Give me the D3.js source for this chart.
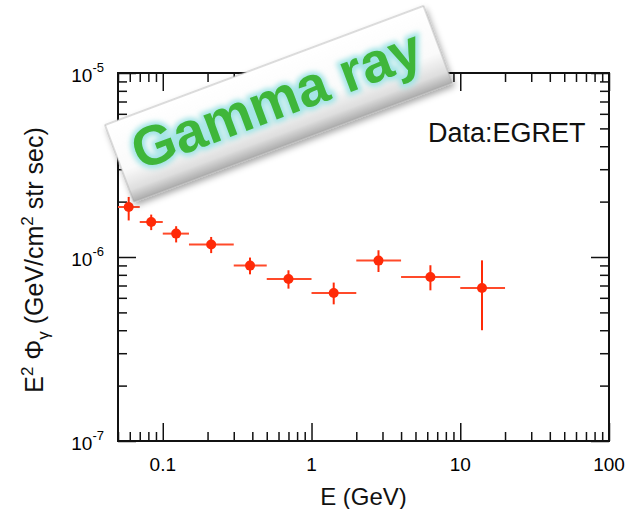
<!DOCTYPE html>
<html>
<head>
<meta charset="utf-8">
<script src="https://cdn.jsdelivr.net/npm/d3@7"></script>
<style>
  body { margin: 0; background: #fff; }
  svg { font-family: "Liberation Sans", Arial, Helvetica, sans-serif; }
</style>
</head>
<body>
<div class="chart"></div>
<script>
// EGRET points
const energy = [0.059, 0.0836, 0.123, 0.2115, 0.386, 0.70, 1.41, 2.82, 6.3, 14.0]
const eLow = [0.05, 0.07, 0.1, 0.15, 0.3, 0.5, 1, 2, 4, 10]
const eHigh = [0.07, 0.1, 0.15, 0.3, 0.5, 1, 2, 4, 10, 20]
const flux = [1.87e-6, 1.55e-6, 1.34e-6, 1.17e-6, 8.98e-7, 7.59e-7, 6.37e-7, 9.56e-7, 7.79e-7, 6.78e-7]
const fluxHigh = [2.12e-6, 1.70e-6, 1.47e-6, 1.285e-6, 9.93e-7, 8.47e-7, 7.26e-7, 1.088e-6, 9.02e-7, 9.59e-7]
const fluxLow = [1.58e-6, 1.40e-6, 1.20e-6, 1.05e-6, 8.05e-7, 6.73e-7, 5.53e-7, 8.29e-7, 6.59e-7, 4.0e-7]

const xTickLabels = ["0.1", "1", "10", "100"]
const xTickValues = [0.1, 1, 10, 100]
const yTickValues = [1e-5, 1e-6, 1e-7]
const yTickExp = ["-5", "-6", "-7"]

const data = energy.map((e, i) => ({e: e, lo: eLow[i], hi: eHigh[i], f: flux[i], fl: fluxLow[i], fh: fluxHigh[i]}))

const W = 633, H = 509
const margin = {left: 118, top: 73, right: 24, bottom: 68}
const w = W - margin.left - margin.right
const h = H - margin.top - margin.bottom

const svg = d3.select(".chart").append("svg").attr("width", W).attr("height", H)
const defs = svg.append("defs")

const x = d3.scaleLog().domain([0.05, 100]).range([0, w])
const y = d3.scaleLog().domain([1e-7, 1e-5]).range([h, 0])

const g = svg.append("g").attr("transform", `translate(${margin.left},${margin.top})`)

defs.append("clipPath").attr("id", "plotclip").append("rect").attr("width", w).attr("height", h)

// ticks on all four sides, pointing inwards
const isMajor = v => Math.abs(Math.log10(v) - Math.round(Math.log10(v))) < 1e-6
const xMinor = x.ticks().filter(v => !isMajor(v))
const yMinor = y.ticks().filter(v => !isMajor(v))

function addAxis(axisFn, scale, values, size, tr) {
  g.append("g").attr("transform", tr)
    .call(axisFn(scale).tickValues(values).tickSize(size).tickSizeOuter(0).tickFormat(""))
    .call(a => a.select(".domain").remove())
    .call(a => a.selectAll("line").attr("stroke", "#111").attr("stroke-width", 1.5))
}
addAxis(d3.axisBottom, x, xMinor, -9, `translate(0,${h})`)
addAxis(d3.axisBottom, x, xTickValues, -18, `translate(0,${h})`)
addAxis(d3.axisTop, x, xMinor, -9, "translate(0,0)")
addAxis(d3.axisTop, x, xTickValues, -18, "translate(0,0)")
addAxis(d3.axisLeft, y, yMinor, -9, "translate(0,0)")
addAxis(d3.axisLeft, y, yTickValues, -18, "translate(0,0)")
addAxis(d3.axisRight, y, yMinor, -9, `translate(${w},0)`)
addAxis(d3.axisRight, y, yTickValues, -18, `translate(${w},0)`)

g.append("rect").attr("width", w).attr("height", h)
  .attr("fill", "none").attr("stroke", "#111").attr("stroke-width", 2)

// tick labels
g.selectAll(".xlab").data(xTickValues).join("text")
  .attr("class", "xlab")
  .attr("x", d => x(d)).attr("y", h + 30)
  .attr("text-anchor", "middle").attr("font-size", 19)
  .text((d, i) => xTickLabels[i])

const ylab = g.selectAll(".ylab").data(yTickValues).join("text")
  .attr("class", "ylab")
  .attr("x", -14).attr("y", d => y(d) + 9)
  .attr("text-anchor", "end").attr("font-size", 19)
ylab.append("tspan").text("10")
ylab.append("tspan").attr("font-size", 13).attr("dy", -10).text((d, i) => yTickExp[i])

// data points with error bars
const red = "#ff2a08"
const pts = g.append("g").attr("clip-path", "url(#plotclip)")
pts.selectAll(".hbar").data(data).join("line")
  .attr("class", "hbar")
  .attr("x1", d => x(d.lo)).attr("x2", d => x(d.hi))
  .attr("y1", d => y(d.f)).attr("y2", d => y(d.f))
  .attr("stroke", "#ff4a2a").attr("stroke-width", 2)
pts.selectAll(".vbar").data(data).join("line")
  .attr("class", "vbar")
  .attr("x1", d => x(d.e)).attr("x2", d => x(d.e))
  .attr("y1", d => y(d.fl)).attr("y2", d => y(d.fh))
  .attr("stroke", red).attr("stroke-width", 2)
pts.selectAll(".dot").data(data).join("circle")
  .attr("class", "dot")
  .attr("cx", d => x(d.e)).attr("cy", d => y(d.f)).attr("r", 5)
  .attr("fill", red)

g.append("text").attr("x", 428 - margin.left).attr("y", 142 - margin.top)
  .attr("font-size", 27).attr("fill", "#111").text("Data:EGRET")

// axis titles
svg.append("text").attr("x", margin.left + w / 2).attr("y", 505)
  .attr("text-anchor", "middle").attr("font-size", 24).attr("fill", "#111").text("E (GeV)")

const yt = svg.append("text").attr("transform", "translate(43,260) rotate(-90)")
  .attr("text-anchor", "middle").attr("font-size", 25).attr("fill", "#111")
yt.append("tspan").text("E")
yt.append("tspan").attr("font-size", 17).attr("dy", -10).text("2")
yt.append("tspan").attr("dy", 10).text(" Φ")
yt.append("tspan").attr("font-size", 17).attr("dy", 6).text("γ")
yt.append("tspan").attr("dy", -6).text(" (GeV/cm")
yt.append("tspan").attr("font-size", 17).attr("dy", -10).text("2")
yt.append("tspan").attr("dy", 10).text(" str sec)")

// "Gamma ray" banner
const grad = defs.append("linearGradient").attr("id", "bannerGrad")
  .attr("x1", 0).attr("y1", 0).attr("x2", 0).attr("y2", 1)
grad.append("stop").attr("offset", 0).attr("stop-color", "#ffffff")
grad.append("stop").attr("offset", 0.6).attr("stop-color", "#fafafa")
grad.append("stop").attr("offset", 0.85).attr("stop-color", "#dedede")
grad.append("stop").attr("offset", 1).attr("stop-color", "#acacac")

const shadow = defs.append("filter").attr("id", "shadow")
  .attr("x", -0.1).attr("y", -0.3).attr("width", 1.2).attr("height", 1.6)
shadow.append("feDropShadow").attr("dx", 1).attr("dy", 4).attr("stdDeviation", 3)
  .attr("flood-color", "#000").attr("flood-opacity", 0.35)

const glow = defs.append("filter").attr("id", "glow")
  .attr("x", -0.1).attr("y", -0.3).attr("width", 1.2).attr("height", 1.6)
glow.append("feGaussianBlur").attr("stdDeviation", 2.5)

const banner = svg.append("g").attr("transform", "translate(105,125) rotate(-20.5)")
banner.append("rect").attr("width", 340).attr("height", 82)
  .attr("fill", "url(#bannerGrad)").attr("stroke", "#a8a8a8").attr("stroke-width", 0.8)
  .attr("filter", "url(#shadow)")
banner.append("text").attr("x", 17).attr("y", 55)
  .attr("font-size", 56).attr("font-weight", "bold")
  .attr("fill", "#a3e4e6").attr("stroke", "#a3e4e6").attr("stroke-width", 7)
  .attr("filter", "url(#glow)").text("Gamma ray")
banner.append("text").attr("x", 17).attr("y", 55)
  .attr("font-size", 56).attr("font-weight", "bold")
  .attr("fill", "#3fb63a").text("Gamma ray")
</script>
</body>
</html>
